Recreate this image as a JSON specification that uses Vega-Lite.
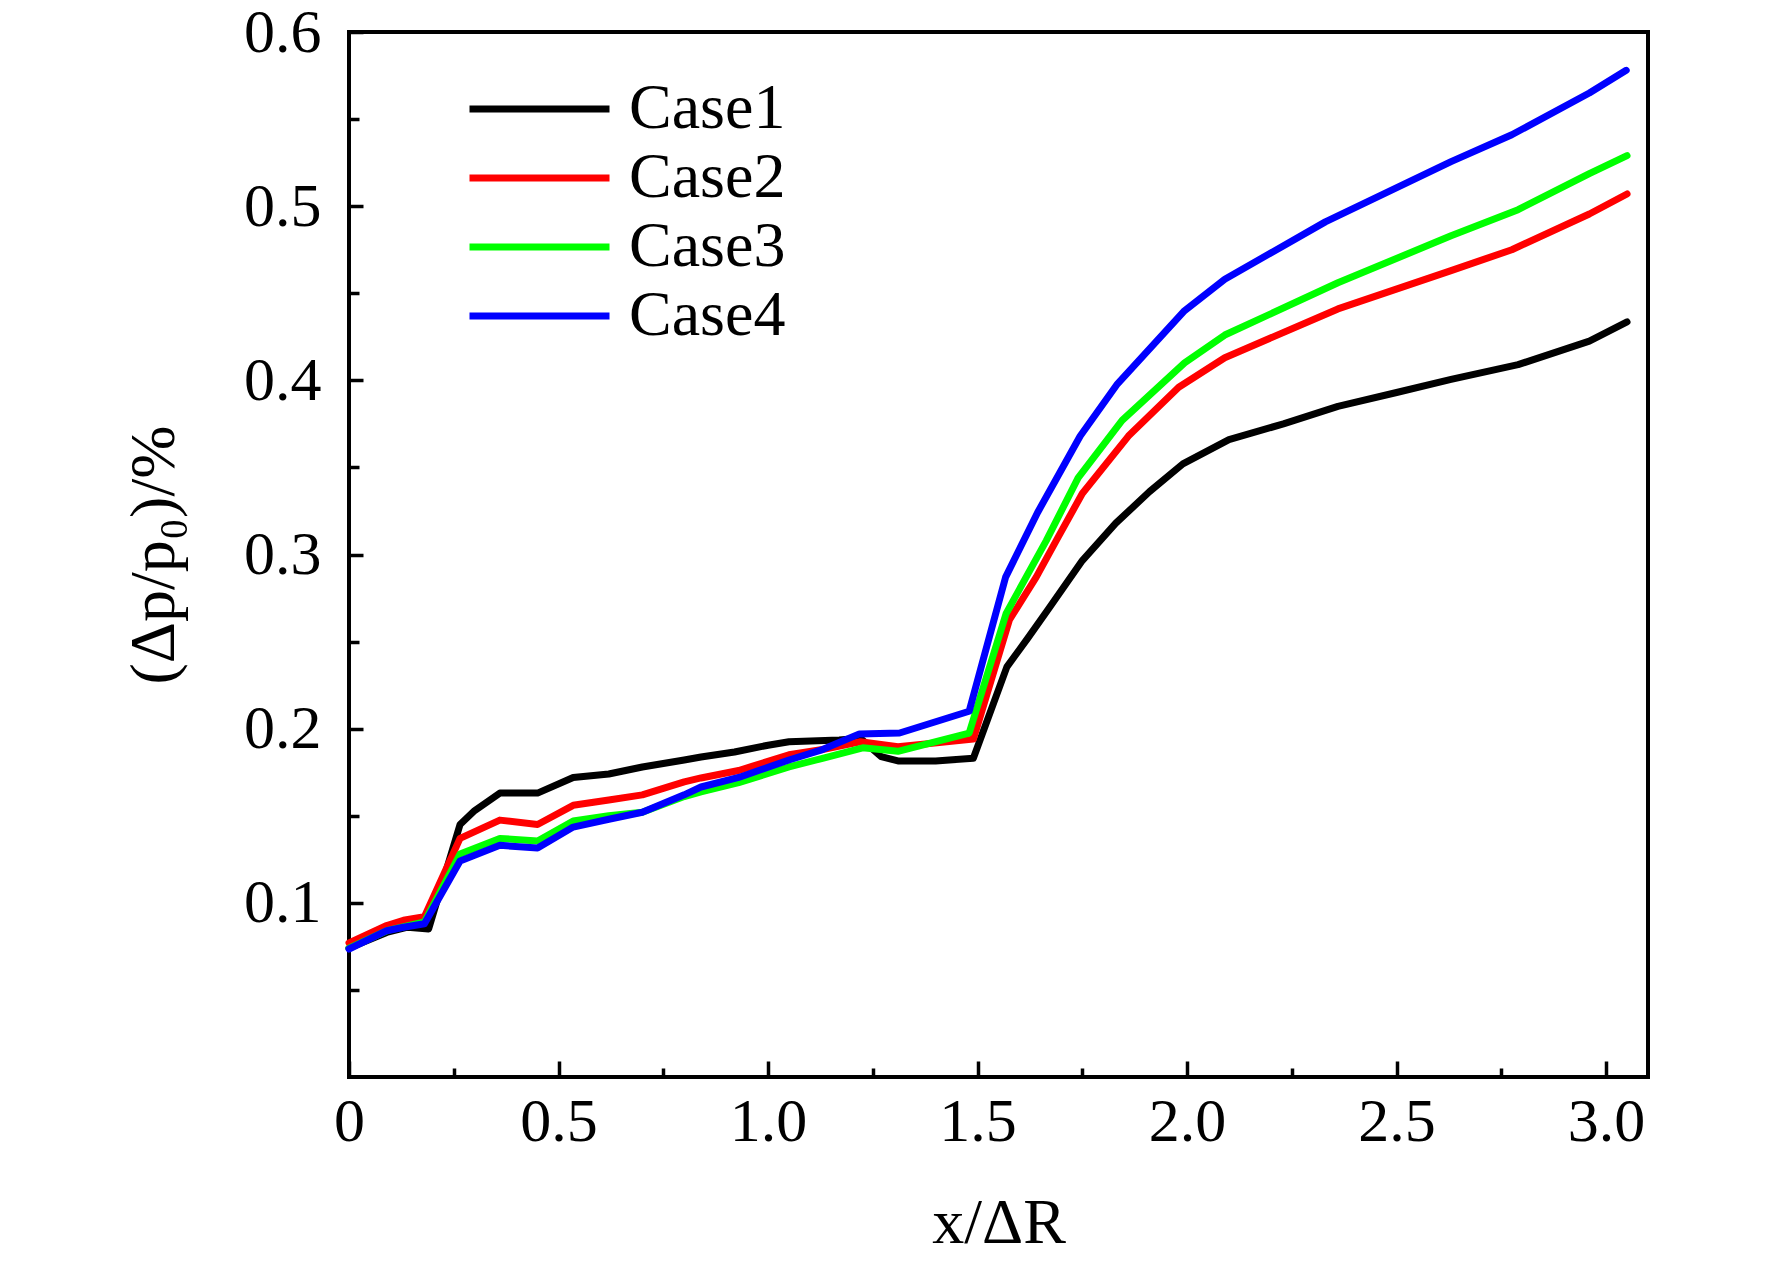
{
  "$schema": "https://vega.github.io/schema/vega-lite/v6.json",
  "width": 1299,
  "height": 1045,
  "autosize": {"type": "none"},
  "padding": {"left": 349, "top": 32, "right": 124, "bottom": 189},
  "background": "white",
  "config": {
    "font": "Liberation Serif",
    "view": {"stroke": "black", "strokeWidth": 4},
    "axis": {"grid": false, "domain": false, "tickColor": "black", "tickWidth": 3.5, "labelColor": "black", "titleColor": "black", "titleFontWeight": "normal", "labelFlush": false}
  },
  "data": {
    "values": [
      {"case": "Case1", "x": 0.0, "y": 0.074},
      {"case": "Case1", "x": 0.09, "y": 0.083},
      {"case": "Case1", "x": 0.14, "y": 0.086},
      {"case": "Case1", "x": 0.19, "y": 0.085},
      {"case": "Case1", "x": 0.265, "y": 0.145},
      {"case": "Case1", "x": 0.3, "y": 0.153},
      {"case": "Case1", "x": 0.36, "y": 0.163},
      {"case": "Case1", "x": 0.45, "y": 0.163},
      {"case": "Case1", "x": 0.535, "y": 0.172},
      {"case": "Case1", "x": 0.62, "y": 0.174},
      {"case": "Case1", "x": 0.7, "y": 0.178},
      {"case": "Case1", "x": 0.8, "y": 0.182},
      {"case": "Case1", "x": 0.84, "y": 0.1837},
      {"case": "Case1", "x": 0.92, "y": 0.1866},
      {"case": "Case1", "x": 1.0, "y": 0.1905},
      {"case": "Case1", "x": 1.05, "y": 0.1925},
      {"case": "Case1", "x": 1.17, "y": 0.1935},
      {"case": "Case1", "x": 1.22, "y": 0.1945},
      {"case": "Case1", "x": 1.27, "y": 0.184},
      {"case": "Case1", "x": 1.31, "y": 0.1815},
      {"case": "Case1", "x": 1.4, "y": 0.1815},
      {"case": "Case1", "x": 1.49, "y": 0.183},
      {"case": "Case1", "x": 1.57, "y": 0.2355},
      {"case": "Case1", "x": 1.62, "y": 0.252},
      {"case": "Case1", "x": 1.67, "y": 0.269},
      {"case": "Case1", "x": 1.75, "y": 0.2965},
      {"case": "Case1", "x": 1.83, "y": 0.318},
      {"case": "Case1", "x": 1.91, "y": 0.336},
      {"case": "Case1", "x": 1.99, "y": 0.352},
      {"case": "Case1", "x": 2.1, "y": 0.366},
      {"case": "Case1", "x": 2.23, "y": 0.375},
      {"case": "Case1", "x": 2.36, "y": 0.385},
      {"case": "Case1", "x": 2.5, "y": 0.393},
      {"case": "Case1", "x": 2.63, "y": 0.4005},
      {"case": "Case1", "x": 2.79, "y": 0.409},
      {"case": "Case1", "x": 2.96, "y": 0.4225},
      {"case": "Case1", "x": 3.05, "y": 0.4335},
      {"case": "Case2", "x": 0.0, "y": 0.077},
      {"case": "Case2", "x": 0.09, "y": 0.087},
      {"case": "Case2", "x": 0.13, "y": 0.09},
      {"case": "Case2", "x": 0.18, "y": 0.092},
      {"case": "Case2", "x": 0.265, "y": 0.137},
      {"case": "Case2", "x": 0.36, "y": 0.1475},
      {"case": "Case2", "x": 0.45, "y": 0.145},
      {"case": "Case2", "x": 0.535, "y": 0.156},
      {"case": "Case2", "x": 0.62, "y": 0.159},
      {"case": "Case2", "x": 0.7, "y": 0.162},
      {"case": "Case2", "x": 0.8, "y": 0.1695},
      {"case": "Case2", "x": 0.84, "y": 0.1717},
      {"case": "Case2", "x": 0.93, "y": 0.176},
      {"case": "Case2", "x": 1.05, "y": 0.185},
      {"case": "Case2", "x": 1.13, "y": 0.188},
      {"case": "Case2", "x": 1.22, "y": 0.1925},
      {"case": "Case2", "x": 1.31, "y": 0.1896},
      {"case": "Case2", "x": 1.49, "y": 0.194},
      {"case": "Case2", "x": 1.576, "y": 0.2624},
      {"case": "Case2", "x": 1.64, "y": 0.287},
      {"case": "Case2", "x": 1.69, "y": 0.309},
      {"case": "Case2", "x": 1.75, "y": 0.335},
      {"case": "Case2", "x": 1.86, "y": 0.368},
      {"case": "Case2", "x": 1.98, "y": 0.396},
      {"case": "Case2", "x": 2.09, "y": 0.413},
      {"case": "Case2", "x": 2.36, "y": 0.441},
      {"case": "Case2", "x": 2.63, "y": 0.463},
      {"case": "Case2", "x": 2.775, "y": 0.475},
      {"case": "Case2", "x": 2.96, "y": 0.4955},
      {"case": "Case2", "x": 3.05, "y": 0.507},
      {"case": "Case3", "x": 0.0, "y": 0.074},
      {"case": "Case3", "x": 0.09, "y": 0.084},
      {"case": "Case3", "x": 0.18, "y": 0.089},
      {"case": "Case3", "x": 0.265, "y": 0.128},
      {"case": "Case3", "x": 0.36, "y": 0.137},
      {"case": "Case3", "x": 0.45, "y": 0.1355},
      {"case": "Case3", "x": 0.535, "y": 0.147},
      {"case": "Case3", "x": 0.62, "y": 0.15},
      {"case": "Case3", "x": 0.7, "y": 0.152},
      {"case": "Case3", "x": 0.8, "y": 0.161},
      {"case": "Case3", "x": 0.84, "y": 0.1637},
      {"case": "Case3", "x": 0.93, "y": 0.169},
      {"case": "Case3", "x": 1.05, "y": 0.178},
      {"case": "Case3", "x": 1.13, "y": 0.183},
      {"case": "Case3", "x": 1.226, "y": 0.189},
      {"case": "Case3", "x": 1.31, "y": 0.187},
      {"case": "Case3", "x": 1.48, "y": 0.1975},
      {"case": "Case3", "x": 1.568, "y": 0.266},
      {"case": "Case3", "x": 1.664, "y": 0.308},
      {"case": "Case3", "x": 1.74, "y": 0.344},
      {"case": "Case3", "x": 1.845, "y": 0.377},
      {"case": "Case3", "x": 1.994, "y": 0.41},
      {"case": "Case3", "x": 2.09, "y": 0.426},
      {"case": "Case3", "x": 2.36, "y": 0.456},
      {"case": "Case3", "x": 2.63, "y": 0.483},
      {"case": "Case3", "x": 2.79, "y": 0.498},
      {"case": "Case3", "x": 2.96, "y": 0.5187},
      {"case": "Case3", "x": 3.05, "y": 0.529},
      {"case": "Case4", "x": 0.0, "y": 0.0735},
      {"case": "Case4", "x": 0.09, "y": 0.084},
      {"case": "Case4", "x": 0.13, "y": 0.086},
      {"case": "Case4", "x": 0.18, "y": 0.088},
      {"case": "Case4", "x": 0.265, "y": 0.124},
      {"case": "Case4", "x": 0.36, "y": 0.133},
      {"case": "Case4", "x": 0.45, "y": 0.1315},
      {"case": "Case4", "x": 0.535, "y": 0.1435},
      {"case": "Case4", "x": 0.62, "y": 0.148},
      {"case": "Case4", "x": 0.7, "y": 0.152},
      {"case": "Case4", "x": 0.8, "y": 0.162},
      {"case": "Case4", "x": 0.84, "y": 0.1665},
      {"case": "Case4", "x": 0.93, "y": 0.172},
      {"case": "Case4", "x": 1.05, "y": 0.182},
      {"case": "Case4", "x": 1.13, "y": 0.188},
      {"case": "Case4", "x": 1.218, "y": 0.197},
      {"case": "Case4", "x": 1.314, "y": 0.1975},
      {"case": "Case4", "x": 1.48, "y": 0.21},
      {"case": "Case4", "x": 1.567, "y": 0.287},
      {"case": "Case4", "x": 1.643, "y": 0.324},
      {"case": "Case4", "x": 1.745, "y": 0.368},
      {"case": "Case4", "x": 1.834, "y": 0.398},
      {"case": "Case4", "x": 1.994, "y": 0.44},
      {"case": "Case4", "x": 2.09, "y": 0.458},
      {"case": "Case4", "x": 2.33, "y": 0.491},
      {"case": "Case4", "x": 2.63, "y": 0.5256},
      {"case": "Case4", "x": 2.775, "y": 0.541},
      {"case": "Case4", "x": 2.96, "y": 0.565},
      {"case": "Case4", "x": 3.048, "y": 0.578}
    ]
  },
  "layer": [
    {
      "mark": {"type": "line", "opacity": 0},
      "encoding": {
        "x": {
          "field": "x", "type": "quantitative",
          "scale": {"domain": [0, 3.1], "nice": false, "zero": false},
          "axis": {"orient": "bottom", "values": [0.25, 0.75, 1.25, 1.75, 2.25, 2.75], "labels": false, "title": null, "tickSize": -9}
        },
        "y": {
          "field": "y", "type": "quantitative",
          "scale": {"domain": [0, 0.6], "nice": false},
          "axis": {"orient": "left", "values": [0.05, 0.15, 0.25, 0.35, 0.45, 0.55], "labels": false, "title": null, "tickSize": -10}
        },
        "detail": {"field": "case"}
      }
    },
    {
      "mark": {"type": "line", "strokeWidth": 7, "strokeJoin": "round", "strokeCap": "round"},
      "encoding": {
        "x": {
          "field": "x", "type": "quantitative",
          "axis": {
            "orient": "bottom",
            "values": [0, 0.5, 1, 1.5, 2, 2.5, 3],
            "labelExpr": "datum.value == 0 ? '0' : format(datum.value, '.1f')",
            "labelFontSize": 62,
            "labelPadding": 30,
            "tickSize": -16,
            "title": "x/ΔR",
            "titleFontSize": 64,
            "titleBaseline": "alphabetic",
            "titleY": 165
          }
        },
        "y": {
          "field": "y", "type": "quantitative",
          "axis": {
            "orient": "left",
            "values": [0.1, 0.2, 0.3, 0.4, 0.5, 0.6],
            "format": ".1f",
            "labelFontSize": 62,
            "labelPadding": 42,
            "tickSize": -14,
            "title": "(Δp/p₀)/%",
            "titleFontSize": 64,
            "titleBaseline": "middle",
            "titleX": -195
          }
        },
        "color": {
          "field": "case", "type": "nominal",
          "scale": {"domain": ["Case1", "Case2", "Case3", "Case4"], "range": ["#000000", "#ff0000", "#00ff00", "#0000ff"]},
          "legend": {
            "orient": "none",
            "legendX": 117,
            "legendY": 45,
            "title": null,
            "symbolType": "stroke",
            "symbolSize": 19600,
            "symbolStrokeWidth": 7,
            "labelFontSize": 64,
            "labelColor": "black",
            "labelOffset": 16,
            "clipHeight": 64,
            "rowPadding": 5,
            "padding": 0
          }
        }
      }
    }
  ],
  "resolve": {"axis": {"x": "independent", "y": "independent"}}
}
